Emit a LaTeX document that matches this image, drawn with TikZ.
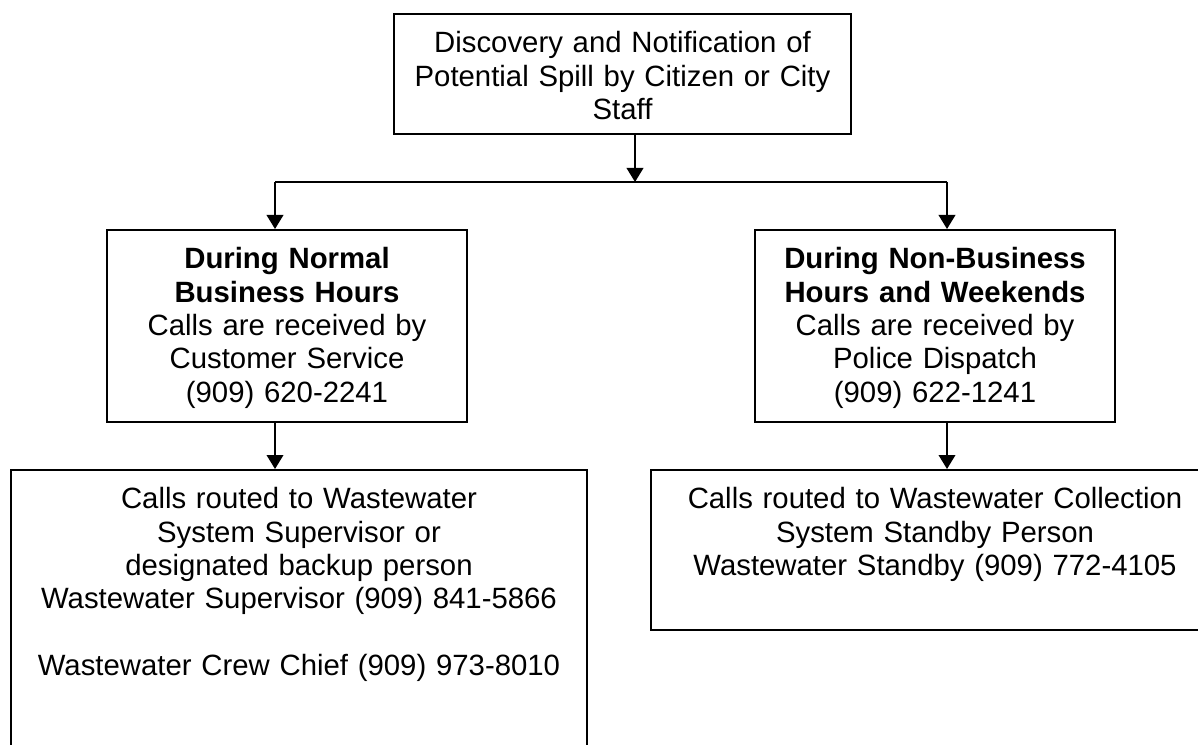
\documentclass[tikz,border=0pt]{standalone}
\usepackage{fontspec}
\setmainfont{Liberation Sans}
\usetikzlibrary{arrows.meta}
\newdimen\pxu
\pxu=0.75pt
\tikzset{
  box/.style={draw, line width=1.2pt, inner sep=0pt, align=center,
    font=\fontsize{22}{25}\selectfont, text height=39\pxu},
  arr/.style={line width=1.2pt, -{Triangle[width=12.5pt,length=10.5pt]}},
  link/.style={line width=1.2pt}
}
\begin{document}
\begin{tikzpicture}[x=0.75pt,y=-0.75pt]
\clip (0,0) rectangle (1198,745);
\fill[white] (0,0) rectangle (1198,745);

\node[box, anchor=north, text width=457\pxu, text depth=81\pxu] (top) at (622.5,13)
  {Discovery and Notification of\\ Potential Spill by Citizen or City\\ Staff};

\node[box, anchor=north, text width=360\pxu, text depth=153\pxu] (left) at (287,229)
  {\textbf{During Normal}\\ \textbf{Business Hours}\\ Calls are received by\\ Customer Service\\ (909) 620-2241};

\node[box, anchor=north, text width=360\pxu, text depth=153\pxu] (right) at (935,229)
  {\textbf{During Non-Business}\\ \textbf{Hours and Weekends}\\ Calls are received by\\ Police Dispatch\\ (909) 622-1241};

\node[box, anchor=north, text width=576\pxu, text depth=261\pxu] (bl) at (299,469)
  {Calls routed to Wastewater\\ System Supervisor or\\ designated backup person\\ Wastewater Supervisor (909) 841-5866\\ ~\\ Wastewater Crew Chief (909) 973-8010};

\node[box, anchor=north, text width=568\pxu, text depth=121\pxu] (br) at (935,469)
  {Calls routed to Wastewater Collection\\ System Standby Person\\ Wastewater Standby (909) 772-4105};

\coordinate (j) at (635,182);
\coordinate (jl) at (275,182);
\coordinate (jr) at (947,182);

\draw[arr] (top.south -| j) -- (j);
\draw[link] (jl) -- (jr);
\draw[arr] (jl) -- (jl |- left.north);
\draw[arr] (jr) -- (jr |- right.north);
\draw[arr] (left.south -| jl) -- (jl |- bl.north);
\draw[arr] (right.south -| jr) -- (jr |- br.north);
\end{tikzpicture}
\end{document}
